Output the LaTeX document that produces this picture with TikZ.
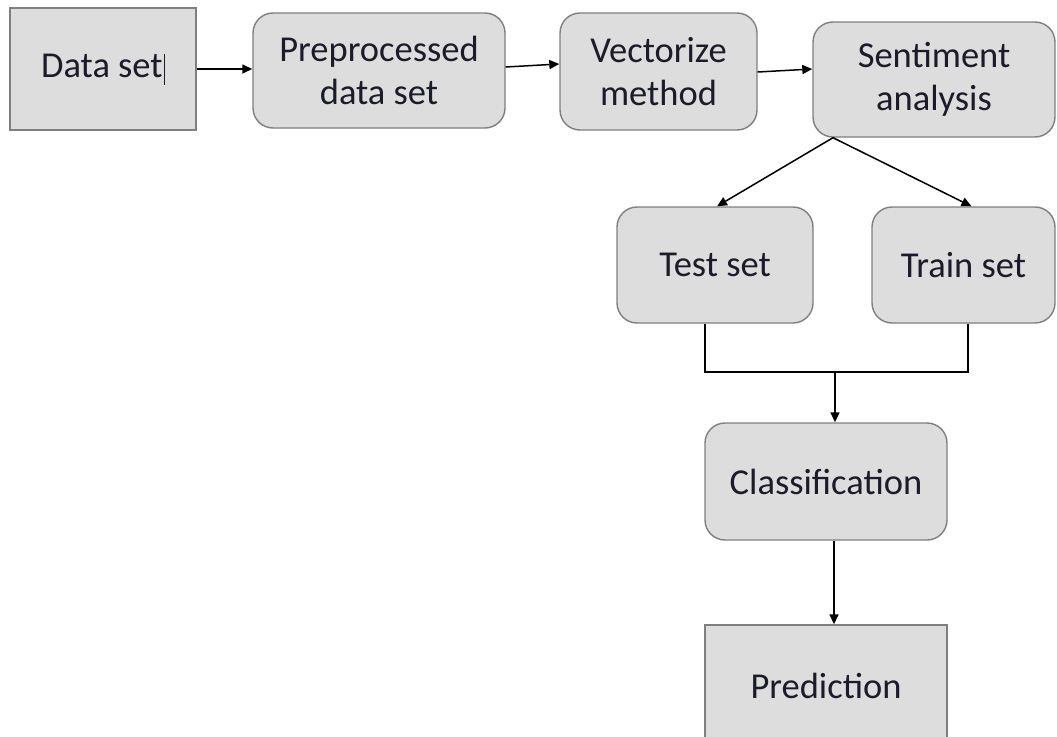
\documentclass[tikz,border=0pt]{standalone}
\usepackage{fontspec}
\setmainfont{Carlito}
\usetikzlibrary{arrows.meta,calc}
\definecolor{boxfill}{HTML}{DDDDDD}
\definecolor{boxline}{HTML}{7F7F7F}
\definecolor{txt}{HTML}{1C1C28}
\tikzset{
  base/.style={draw=boxline, fill=boxfill, line width=1.4pt, text=txt,
    align=center, inner sep=0pt, font=\fontsize{36.5}{43}\selectfont},
  sqbox/.style={base, rectangle},
  rbox/.style={base, rectangle, rounded corners=20pt},
  conn/.style={draw=black, line width=1.5pt},
  arr/.style={conn, -{Triangle[length=10pt,width=9pt]}},
}
\begin{document}
\begin{tikzpicture}[x=1pt,y=-1pt]
\useasboundingbox (0,0) rectangle (1057,736);
\node[sqbox, minimum width=186pt, minimum height=122pt] (ds) at (103,69) {Data set\kern1pt\rule[-7pt]{1.2pt}{31pt}};
\node[rbox, minimum width=252pt, minimum height=115pt] (pre) at (379,70.5) {Preprocessed\\data set};
\node[rbox, minimum width=197pt, minimum height=117pt] (vec) at (658.5,71.5) {Vectorize\\method};
\node[rbox, minimum width=242pt, minimum height=115pt] (sen) at (934,79.5) {Sentiment\\analysis};
\node[rbox, minimum width=196pt, minimum height=116pt] (test) at (715,265) {Test set};
\node[rbox, minimum width=183pt, minimum height=116pt] (train) at (963.5,265) {Train set};
\node[rbox, minimum width=242pt, minimum height=117pt] (cls) at (826,481.5) {Classification};
\node[sqbox, minimum width=242pt, minimum height=122pt] (pred) at (826,686) {Prediction};

\draw[arr] (ds.east) -- (ds.east -| pre.west);
\draw[arr] ([yshift=3.5pt]pre.east) -- ([yshift=7.5pt]vec.west);
\draw[arr] ([yshift=-0.5pt]vec.east) -- ([yshift=10.5pt]sen.west);
\coordinate (split) at ([xshift=-101pt]sen.south);
\draw[arr] (split) -- ([xshift=2pt]test.north);
\draw[arr] (split) -- ([xshift=8pt]train.north);
\coordinate (j) at (835,372);
\draw[conn] ([xshift=-10pt]test.south) |- (j) -| ([xshift=4.5pt]train.south);
\draw[arr] (j) -- (j |- cls.north);
\draw[arr] ([xshift=8pt]cls.south) -- ([xshift=8pt]pred.north);
\end{tikzpicture}
\end{document}
